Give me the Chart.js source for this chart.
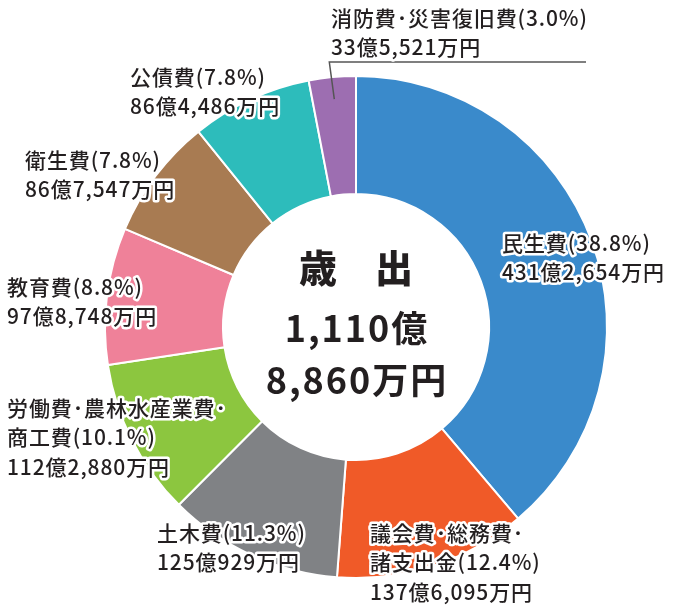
<!DOCTYPE html>
<html lang="ja">
<head>
<meta charset="utf-8">
<script src="https://cdn.jsdelivr.net/npm/chart.js@4.4.1/dist/chart.umd.min.js"></script>
<style>
  html, body { margin: 0; padding: 0; background: #fff; }
  #wrap { width: 690px; height: 607px; position: relative; }
</style>
</head>
<body>
<div id="wrap"><canvas id="graficaSaishutsu"></canvas></div>
<script>
// 歳出の内訳（単位：万円）
const categories = ['民生費', '議会費・総務費・\n諸支出金', '土木費', '労働費・農林水産業費・\n商工費', '教育費', '衛生費', '公債費', '消防費・災害復旧費'];
const amounts = [4312654, 1376095, 1250929, 1122880, 978748, 867547, 864486, 335521];
const percents = [38.8, 12.4, 11.3, 10.1, 8.8, 7.8, 7.8, 3.0];
const centerLines = ['歳　出', '1,110億', '8,860万円'];

const colores = ['#3a8acb', '#f05a28', '#808285', '#8cc63f', '#ef8199', '#a87b52', '#2dbcbb', '#9d6eb1'];

// 億・万円の表記にする
function formato(v) {
  return Math.floor(v / 10000) + '億' + (v % 10000).toLocaleString('ja-JP') + '万円';
}

// ラベル位置（左端 x, 1行目の中心 y）
const posEtiquetas = [[502, 243], [370, 533], [157, 533], [7, 408], [7, 287], [25, 160], [130, 77], [331, 18]];

const etiquetas = {
  id: 'etiquetas',
  afterDraw(chart) {
    const ctx = chart.ctx;
    const meta = chart.getDatasetMeta(0);
    ctx.save();

    // 消防費の引き出し線
    const arc = meta.data[7];
    const mid = (arc.startAngle + arc.endAngle) / 2;
    const r = arc.outerRadius - 22;
    const px = arc.x + Math.cos(mid) * r;
    const py = arc.y + Math.sin(mid) * r;
    ctx.strokeStyle = '#555';
    ctx.lineWidth = 1.5;
    ctx.beginPath();
    ctx.moveTo(px, py);
    ctx.lineTo(px - 5, 62);
    ctx.lineTo(586, 62);
    ctx.stroke();

    ctx.font = '500 21px "Noto Sans CJK JP"';
    ctx.letterSpacing = '0.9px';
    ctx.textBaseline = 'middle';
    ctx.textAlign = 'left';
    ctx.lineJoin = 'round';
    categories.forEach((cat, i) => {
      const lineas = cat.replace(/・/g, '･').split('\n');
      lineas[lineas.length - 1] += '(' + percents[i].toFixed(1) + '%)';
      lineas.push(formato(amounts[i]));
      const [x, y] = posEtiquetas[i];
      lineas.forEach((t, j) => {
        ctx.strokeStyle = '#fff';
        ctx.lineWidth = 5;
        ctx.strokeText(t, x, y + j * 29.5);
        ctx.fillStyle = '#231f20';
        ctx.fillText(t, x, y + j * 29.5);
      });
    });

    // 中央の合計
    const cx = meta.data[0].x, cy = meta.data[0].y;
    ctx.textAlign = 'center';
    ctx.fillStyle = '#231f20';
    ctx.letterSpacing = '0px';
    ctx.font = '900 38px "Noto Sans CJK JP"';
    ctx.fillText(centerLines[0], cx, cy - 59);
    ctx.font = '700 36px "Noto Sans CJK JP"';
    ctx.letterSpacing = '2px';
    ctx.fillText(centerLines[1], cx + 1, cy + 1);
    ctx.fillText(centerLines[2], cx + 1, cy + 53);
    ctx.restore();
  }
};

const ctx = document.getElementById('graficaSaishutsu').getContext('2d');
new Chart(ctx, {
  type: 'doughnut',
  data: {
    labels: categories,
    datasets: [{
      data: amounts,
      backgroundColor: colores,
      borderColor: '#fff',
      borderWidth: 2
    }]
  },
  options: {
    responsive: true,
    maintainAspectRatio: false,
    animation: false,
    cutout: '53%',
    layout: { padding: { top: 75, bottom: 28, left: 104, right: 82 } },
    plugins: {
      legend: { display: false },
      tooltip: { enabled: false }
    }
  },
  plugins: [etiquetas]
});
</script>
</body>
</html>
